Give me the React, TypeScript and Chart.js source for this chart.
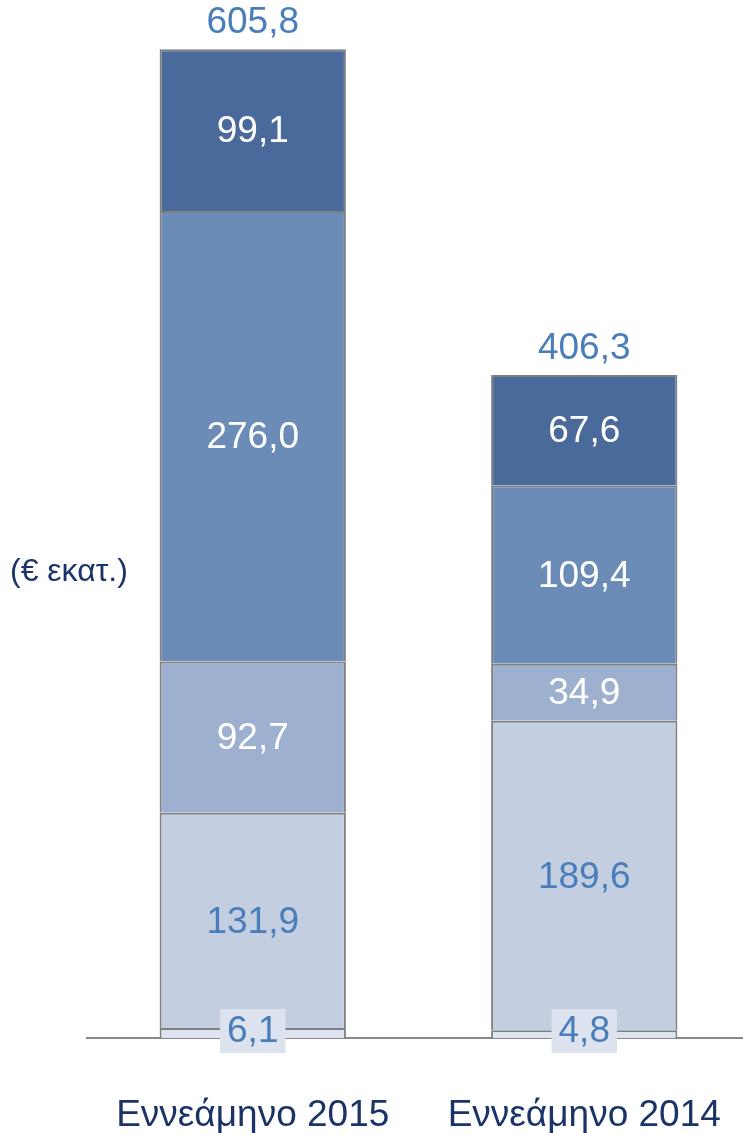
import React, { useEffect, useRef } from "react";
import { Chart, registerables } from "chart.js";

Chart.register(...registerables);

const categories = ["Εννεάμηνο 2015", "Εννεάμηνο 2014"];
const seriesA = [6.1, 4.8];
const seriesB = [131.9, 189.6];
const seriesC = [92.7, 34.9];
const seriesD = [276.0, 109.4];
const seriesE = [99.1, 67.6];
const totals = [605.8, 406.3];
const unitLabel = "(€ εκατ.)";

const segColors = ["#DDE3EF", "#C3CEE1", "#9DB0CF", "#6C8CB8", "#4A6A9B"];
const labelColors = ["#4A7EBB", "#4A7EBB", "#FFFFFF", "#FFFFFF", "#FFFFFF"];
const FONT = "'Liberation Sans', Arial, sans-serif";

const fmt = (v: number) => v.toFixed(1).replace(".", ",");

const labelPlugin = {
  id: "valueLabels",
  afterDatasetsDraw(chart: any) {
    const ctx = chart.ctx;
    ctx.save();
    ctx.font = `37px ${FONT}`;
    ctx.textAlign = "center";
    ctx.textBaseline = "middle";
    const n = chart.data.datasets.length;
    chart.data.datasets.forEach((ds: any, i: number) => {
      const meta = chart.getDatasetMeta(i);
      meta.data.forEach((el: any, j: number) => {
        const v = ds.data[j];
        const txt = fmt(v);
        if (i === 0) {
          const w = ctx.measureText(txt).width + 14;
          const h = 44;
          const cy = el.base - 7;
          ctx.fillStyle = "#DCE3EF";
          ctx.fillRect(el.x - w / 2, cy - h / 2, w, h);
          ctx.fillStyle = labelColors[i];
          ctx.fillText(txt, el.x, cy + 1);
        } else {
          ctx.fillStyle = labelColors[i];
          ctx.fillText(txt, el.x, (el.y + el.base) / 2 + 2);
        }
        if (i === n - 1) {
          ctx.fillStyle = "#4A7EBB";
          ctx.fillText(fmt(totals[j]), el.x, el.y - 26);
        }
      });
    });
    ctx.font = `32px ${FONT}`;
    ctx.textAlign = "left";
    ctx.fillStyle = "#1B3468";
    ctx.fillText(unitLabel, 10, 572);
    ctx.restore();
  },
};

export default function App() {
  const ref = useRef<HTMLCanvasElement>(null);
  useEffect(() => {
    document.body.style.margin = "0";
    const seriesList = [seriesA, seriesB, seriesC, seriesD, seriesE];
    const chart = new Chart(ref.current as HTMLCanvasElement, {
      type: "bar",
      data: {
        labels: categories,
        datasets: seriesList.map((s, i) => ({
          data: s,
          backgroundColor: segColors[i],
          borderColor: "#808080",
          borderWidth: 2,
          barPercentage: 0.562,
          categoryPercentage: 1,
        })),
      },
      options: {
        responsive: false,
        animation: false,
        layout: { padding: { left: 87, top: 0, right: 0, bottom: 0 } },
        plugins: { legend: { display: false }, tooltip: { enabled: false } },
        scales: {
          x: {
            stacked: true,
            grid: { display: false },
            border: { display: true, color: "#888888", width: 2 },
            ticks: {
              color: "#1B3468",
              font: { family: FONT, size: 37 },
              padding: 48,
              maxRotation: 0,
            },
            afterFit: (scale: any) => {
              scale.height = 95;
              scale.paddingLeft = 0;
              scale.paddingRight = 0;
            },
          },
          y: {
            stacked: true,
            display: false,
            min: 0,
            max: 636,
          },
        },
      },
      plugins: [labelPlugin],
    });
    return () => chart.destroy();
  }, []);
  return (
    <div style={{ position: "absolute", left: 0, top: 0, width: 743, height: 1133, overflow: "hidden", background: "#fff" }}>
      <canvas ref={ref} width={750} height={1133} style={{ width: 750, height: 1133 }} />
    </div>
  );
}
